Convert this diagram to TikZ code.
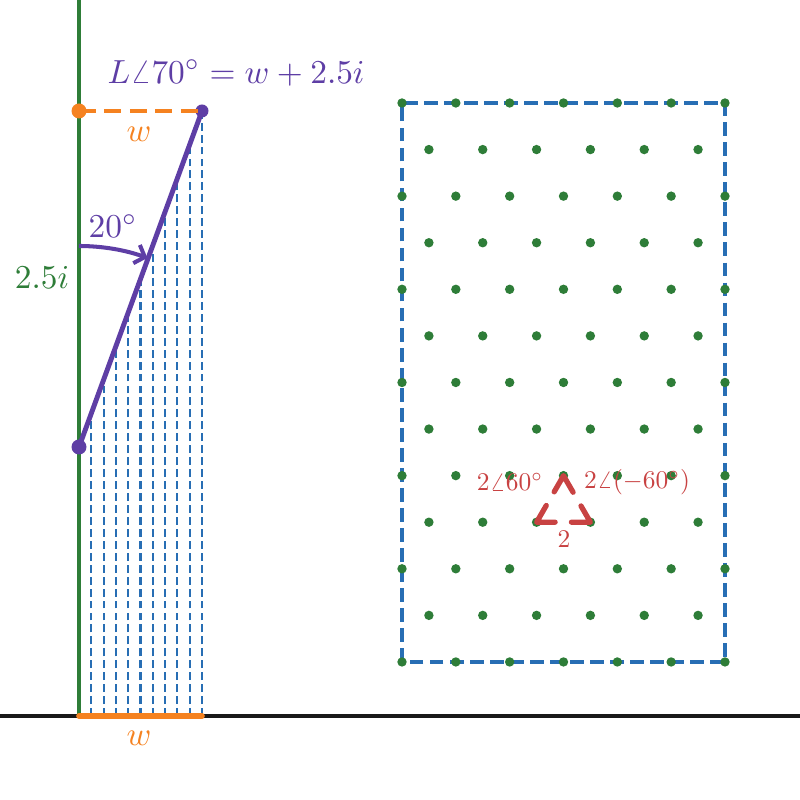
\documentclass[tikz,border=0pt]{standalone}
\usetikzlibrary{arrows.meta}
\definecolor{cgreen}{RGB}{46,125,56}
\definecolor{corange}{RGB}{245,130,32}
\definecolor{cpurple}{RGB}{94,62,165}
\definecolor{cblue}{RGB}{40,110,180}
\definecolor{cred}{RGB}{200,66,66}
\begin{document}
\begin{tikzpicture}[x=0.02cm,y=0.02cm,
  big/.style={scale=1.9,transform shape},
  small/.style={scale=1.45,transform shape},
  thindash/.style={draw=cblue,line width=1.2pt,dash pattern=on 4.5pt off 2.3pt},
  dotg/.style={fill=cgreen}]
\useasboundingbox (0,0) rectangle (800,800);
% projection dashed lines
\foreach \k in {1,...,10}{
  \draw[thindash] (79+12.3*\k,84) -- (79+12.3*\k,353+33.6*\k);
}
% axes
\draw[cgreen,line width=2.2pt] (79,800) -- (79,84);
\draw[black!90,line width=2pt] (0,84) -- (800,84);
\coordinate (b0) at (79,84);
\coordinate (b1) at (202,84);
\draw[corange,line width=3.2pt,line cap=round] (b0) -- (b1);
\node[big,text=corange] (wb) at (139,62) {$w$};
% top orange dashed
\node[circle,fill=corange,inner sep=0pt,minimum size=0.3cm] (o1) at (79,689) {};
\node[circle,fill=cpurple,inner sep=0pt,minimum size=0.26cm] (p2) at (202,689) {};
\draw[corange,line width=2.6pt,dash pattern=on 9.5pt off 5pt] (o1.center) -- (p2.center);
\node[big,text=corange] (wt) at (139,666) {$w$};
% vector
\node[circle,fill=cpurple,inner sep=0pt,minimum size=0.3cm] (p1) at (79,353) {};
\draw[cpurple,line width=2.8pt] (p1.center) -- (p2.center);
% arc
\draw[cpurple,line width=2.3pt,-{Straight Barb[length=5pt,width=11pt,line width=2.3pt]}] (79,554) arc[start angle=90,end angle=70.1,radius=201];
\node[big,text=cpurple] (ang) at (113,574) {$20^\circ$};
\node[big,text=cgreen] (im) at (42,522) {$2.5i$};
\node[big,text=cpurple] (title) at (236,727) {$L\angle 70^\circ = w + 2.5i$};
% lattice
\draw[cblue,line width=1.9pt,dash pattern=on 7.8pt off 3.6pt] (402,138) rectangle (725,697);
\foreach \j in {0,2,...,12}{
  \foreach \i in {0,...,6}{
    \fill[dotg] (402+53.83*\i,697-46.58*\j) circle (4.7);
  }
}
\foreach \j in {1,3,...,11}{
  \foreach \i in {0,...,5}{
    \fill[dotg] (428.9+53.83*\i,697-46.58*\j) circle (4.7);
  }
}
% triangle
\coordinate (tA) at (563.5,324.3);
\coordinate (tB) at (590.4,277.8);
\coordinate (tC) at (536.6,277.8);
\coordinate (tM) at (563.5,277.8);
\draw[cred,line width=3pt,line cap=round,line join=round,dash pattern=on 21.5pt off 9pt,dash phase=26pt] (tM) -- (tB) -- (tA) -- (tC) -- cycle;
\node[small,text=cred] (l1) at (510,318) {$2\angle 60^\circ$};
\node[small,text=cred] (l2) at (637,318) {$2\angle(-60^\circ)$};
\node[small,text=cred] (l3) at (564,261) {$2$};
\end{tikzpicture}
\end{document}
